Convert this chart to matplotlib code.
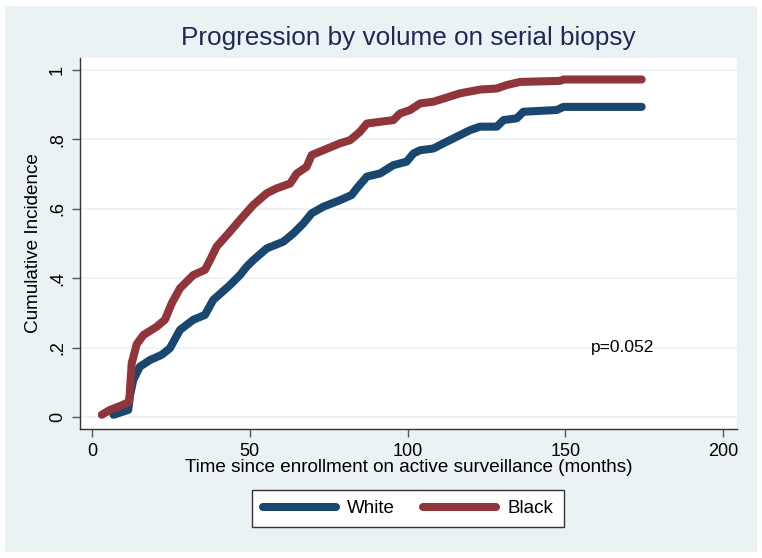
import numpy as np
import matplotlib.pyplot as plt
from matplotlib.patches import Rectangle

# Cumulative incidence (months, proportion)
white_t = [6.8, 11.5, 12.0, 13.1, 15.2, 18.4, 22.1, 24.7, 27.9, 32.1, 35.8, 38.4, 43.7,
           46.9, 49.0, 51.1, 55.4, 60.6, 63.8, 67.0, 69.6, 73.3, 78.6, 82.3, 83.9, 87.1,
           91.3, 95.5, 99.7, 101.9, 104.0, 108.2, 111.4, 115.6, 119.8, 123.0, 128.3,
           130.4, 134.6, 136.7, 147.3, 149.4, 174.2]
white_ci = [0.006, 0.02, 0.06, 0.107, 0.145, 0.164, 0.179, 0.198, 0.251, 0.280, 0.294,
            0.337, 0.380, 0.409, 0.433, 0.452, 0.486, 0.505, 0.529, 0.558, 0.587, 0.606,
            0.625, 0.640, 0.659, 0.693, 0.702, 0.726, 0.736, 0.760, 0.769, 0.774, 0.789,
            0.808, 0.827, 0.837, 0.837, 0.856, 0.861, 0.880, 0.885, 0.894, 0.894]

black_t = [3.1, 5.7, 9.9, 11.8, 12.6, 14.2, 16.3, 20.5, 23.1, 25.3, 27.9, 32.1, 35.8,
           37.4, 39.5, 43.7, 46.9, 51.1, 55.4, 58.5, 62.8, 64.9, 68.0, 69.6, 73.3, 78.6,
           81.8, 84.9, 87.1, 91.3, 95.5, 97.6, 100.8, 104.0, 108.2, 111.4, 116.6, 123.0,
           128.3, 131.4, 135.7, 148.3, 149.4, 174.2]
black_ci = [0.006, 0.02, 0.035, 0.044, 0.155, 0.21, 0.236, 0.26, 0.28, 0.328, 0.371,
            0.409, 0.424, 0.452, 0.491, 0.534, 0.568, 0.611, 0.645, 0.659, 0.673, 0.702,
            0.721, 0.755, 0.769, 0.789, 0.798, 0.822, 0.846, 0.851, 0.856, 0.875, 0.885,
            0.904, 0.909, 0.918, 0.933, 0.944, 0.947, 0.957, 0.966, 0.969, 0.973, 0.973]

xticks = [0, 50, 100, 150, 200]
yticks = [0, 0.2, 0.4, 0.6, 0.8, 1.0]
ytick_labels = ['0', '.2', '.4', '.6', '.8', '1']

plt.rcParams['font.family'] = ['Liberation Sans', 'DejaVu Sans']

bg = '#EAF2F3'
navy = '#1A476F'
maroon = '#90353B'

fig = plt.figure(figsize=(7.62, 5.58), dpi=100)
fig.patch.set_facecolor('white')
# Stata-style graph region, drawn beneath the axes
fig.patches.append(Rectangle((5 / 762, 6 / 558), 752 / 762, 546 / 558,
                             transform=fig.transFigure, facecolor=bg,
                             edgecolor='none', zorder=-5))

ax = fig.add_axes([80 / 762, 129 / 558, 657 / 762, 371 / 558])
ax.set_zorder(2)
ax.set_facecolor('white')

ax.plot(white_t, white_ci, color=navy, lw=5.8,
        solid_capstyle='round', solid_joinstyle='round', label='White', zorder=3)
ax.plot(black_t, black_ci, color=maroon, lw=5.8,
        solid_capstyle='round', solid_joinstyle='round', label='Black', zorder=4)

ax.set_xlim(-3.8, 204.4)
ax.set_ylim(-0.035, 1.035)
ax.set_xticks(xticks)
ax.set_yticks(yticks)
ax.set_yticklabels(ytick_labels, rotation=90, va='center')
ax.tick_params(axis='both', direction='out', length=6, width=1, color='#555555',
               labelsize=13, pad=4)
ax.grid(axis='y', color=bg, lw=1.2, zorder=0)
ax.set_axisbelow(True)

for side in ['top', 'right']:
    ax.spines[side].set_visible(False)
for side in ['left', 'bottom']:
    ax.spines[side].set_color('#333333')
    ax.spines[side].set_linewidth(1)

ax.set_xlabel('Time since enrollment on active surveillance (months)', fontsize=13.6,
              labelpad=-1)
ax.set_ylabel('Cumulative Incidence', fontsize=13.6, labelpad=5)
ax.set_title('Progression by volume on serial biopsy', fontsize=18.8, color='#1E2A55',
             pad=9)

ax.text(158, 0.2, 'p=0.052', fontsize=12.5, ha='left', va='center')

leg = fig.legend(loc='center', bbox_to_anchor=(408 / 762, 49.5 / 558), ncol=2,
                 fontsize=13.5, handlelength=3.9, columnspacing=1.5, handletextpad=0.6,
                 borderpad=0.55, fancybox=False, framealpha=1, edgecolor='#333333')
leg.get_frame().set_linewidth(1)

fig.savefig('out.png', dpi=100, facecolor=fig.get_facecolor())
